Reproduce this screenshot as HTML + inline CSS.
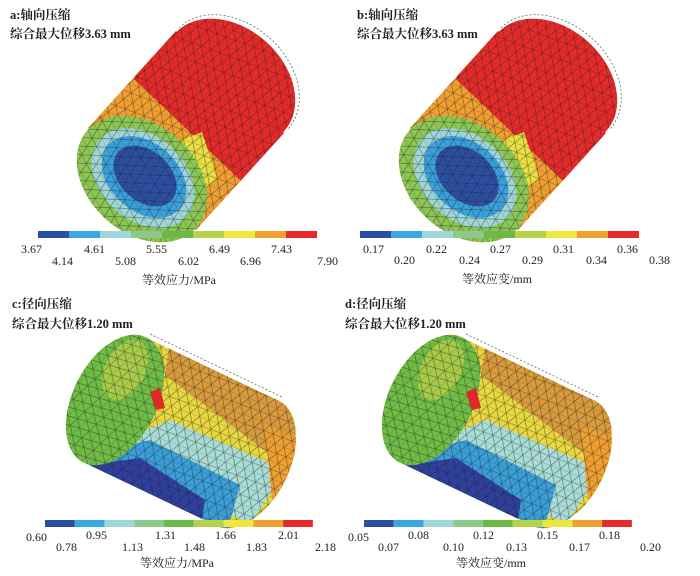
<!DOCTYPE html>
<html><head><meta charset="utf-8"><style>
html,body{margin:0;padding:0;background:#fff}
svg{display:block}
text{font-family:"Liberation Serif","Noto Serif CJK SC",serif;fill:#222}
</style></head><body>
<svg width="700" height="576" viewBox="0 0 700 576" xmlns="http://www.w3.org/2000/svg">
<defs>
<pattern id="mesh" width="20" height="17" patternUnits="userSpaceOnUse" patternTransform="rotate(20)">
<path d="M0,0 L20,0 M0,8.5 L20,8.5 M0,0 L10,17 L20,0 M0,17 L10,0 L20,17" stroke="#222" stroke-width="0.6" fill="none" opacity="0.6"/>
</pattern>
<clipPath id="bodyA">
<polygon points="88,128 176,31 284,133 196,230"/>
<ellipse cx="230" cy="82" rx="73" ry="54" transform="rotate(42 230 82)"/>
<ellipse cx="142" cy="179" rx="73" ry="54" transform="rotate(42 142 179)"/>
</clipPath>
<g id="cylA">
<g clip-path="url(#bodyA)">
<rect x="60" y="15" width="250" height="235" fill="#f0a030"/>
<polygon points="134,79 242,182 420,0 200,-100" fill="#e62a2a"/>
<polygon points="182,140 202,132 217,178 197,195" fill="#e8e040"/>
<polygon points="120,126 142,120 174,148 162,163" fill="#e62a2a"/>
<rect x="60" y="15" width="250" height="235" fill="url(#mesh)"/>
</g>
<ellipse cx="142" cy="179" rx="73" ry="54" transform="rotate(42 142 179)" fill="#8cc653"/>
<ellipse cx="143" cy="178" rx="58" ry="42" transform="rotate(42 143 178)" fill="#9fd6d8"/>
<ellipse cx="144" cy="177" rx="48" ry="34" transform="rotate(42 144 177)" fill="#3aa0dc"/>
<ellipse cx="145" cy="176" rx="36" ry="25" transform="rotate(42 145 176)" fill="#2c4ea2"/>
<ellipse cx="142" cy="179" rx="73" ry="54" transform="rotate(42 142 179)" fill="url(#mesh)"/>
<path d="M176,31 A73,54 42 0 1 284,133" fill="none" stroke="#666" stroke-width="0.8" stroke-dasharray="2,2" transform="translate(3,-3)"/>
</g>
<clipPath id="bodyC">
<polygon points="147,338 279,401 215,525 83,462"/>
<ellipse cx="247" cy="463" rx="70" ry="42" transform="rotate(117 247 463)"/>
<ellipse cx="115" cy="400" rx="70" ry="42" transform="rotate(117 115 400)"/>
</clipPath>
<g id="cylC">
<g clip-path="url(#bodyC)">
<rect x="60" y="320" width="250" height="220" fill="#e8d840"/>
<polygon points="170,340 300,400 290,470 165,375" fill="#d99a3c"/>
<polygon points="110,445 170,420 285,470 250,525" fill="#a9dcd6"/>
<polygon points="90,455 150,440 240,485 225,540 80,480" fill="#3a9fd8"/>
<polygon points="90,465 140,458 205,500 200,535 80,480" fill="#2e3f9e"/>
<polygon points="265,425 300,440 295,500 272,500" fill="#f0a030"/>
<rect x="60" y="320" width="250" height="220" fill="url(#mesh)"/>
</g>
<ellipse cx="115" cy="400" rx="70" ry="42" transform="rotate(117 115 400)" fill="#6fbd45"/>
<ellipse cx="125" cy="370" rx="32" ry="20" transform="rotate(117 125 370)" fill="#a8cc48"/>
<ellipse cx="115" cy="400" rx="70" ry="42" transform="rotate(117 115 400)" fill="url(#mesh)"/>
<polygon points="150,392 160,388 165,408 156,410" fill="#e02828"/>
<path d="M147,338 L279,401" fill="none" stroke="#666" stroke-width="0.8" stroke-dasharray="2,2" transform="translate(3,-4)"/>
</g>
<g id="barA">
<rect x="0" y="0" width="31" height="7" fill="#2c4ea2"/><rect x="31" y="0" width="31" height="7" fill="#3aa8e0"/><rect x="62" y="0" width="31" height="7" fill="#9fd6d8"/><rect x="93" y="0" width="31" height="7" fill="#8cc98a"/><rect x="124" y="0" width="31" height="7" fill="#6cba45"/><rect x="155" y="0" width="31" height="7" fill="#b5d24a"/><rect x="186" y="0" width="31" height="7" fill="#ece840"/><rect x="217" y="0" width="31" height="7" fill="#f0a030"/><rect x="248" y="0" width="31" height="7" fill="#e62a2a"/>
</g>
</defs>

<use href="#cylA"/>
<use href="#cylA" transform="translate(322,0)"/>
<use href="#cylC"/>
<use href="#cylC" transform="translate(316,0)"/>

<use href="#barA" transform="translate(38,231)"/>
<use href="#barA" transform="translate(360,231)"/>
<use href="#barA" transform="translate(45,520) scale(0.96,1)"/>
<use href="#barA" transform="translate(364,520) scale(0.96,1)"/>

<g font-size="12.5" font-weight="bold">
<text x="10" y="19">a:轴向压缩</text><text x="10" y="38">综合最大位移3.63 mm</text>
<text x="357" y="19">b:轴向压缩</text><text x="357" y="38">综合最大位移3.63 mm</text>
<text x="12" y="308">c:径向压缩</text><text x="12" y="328">综合最大位移1.20 mm</text>
<text x="345" y="308">d:径向压缩</text><text x="345" y="328">综合最大位移1.20 mm</text>
</g>
<g font-size="12">
<text x="21" y="253">3.67</text><text x="84" y="253">4.61</text><text x="146" y="253">5.55</text><text x="209" y="253">6.49</text><text x="271" y="253">7.43</text>
<text x="52" y="265">4.14</text><text x="115" y="265">5.08</text><text x="178" y="265">6.02</text><text x="240" y="265">6.96</text><text x="317" y="265">7.90</text>
<text x="142" y="284">等效应力/MPa</text>
<text x="363" y="253">0.17</text><text x="426" y="253">0.22</text><text x="490" y="253">0.27</text><text x="553" y="253">0.31</text><text x="617" y="253">0.36</text>
<text x="394" y="264">0.20</text><text x="459" y="264">0.24</text><text x="522" y="264">0.29</text><text x="586" y="264">0.34</text><text x="649" y="264">0.38</text>
<text x="462" y="283">等效应变/mm</text>
<text x="26" y="541">0.60</text><text x="86" y="539">0.95</text><text x="155" y="539">1.31</text><text x="215" y="539">1.66</text><text x="278" y="539">2.01</text>
<text x="56" y="551">0.78</text><text x="122" y="551">1.13</text><text x="184" y="551">1.48</text><text x="246" y="551">1.83</text><text x="315" y="551">2.18</text>
<text x="140" y="567">等效应力/MPa</text>
<text x="348" y="541">0.05</text><text x="408" y="539">0.08</text><text x="473" y="539">0.12</text><text x="537" y="539">0.15</text><text x="599" y="539">0.18</text>
<text x="378" y="551">0.07</text><text x="443" y="551">0.10</text><text x="506" y="551">0.13</text><text x="569" y="551">0.17</text><text x="640" y="551">0.20</text>
<text x="456" y="567">等效应变/mm</text>
</g>
</svg>
</body></html>
